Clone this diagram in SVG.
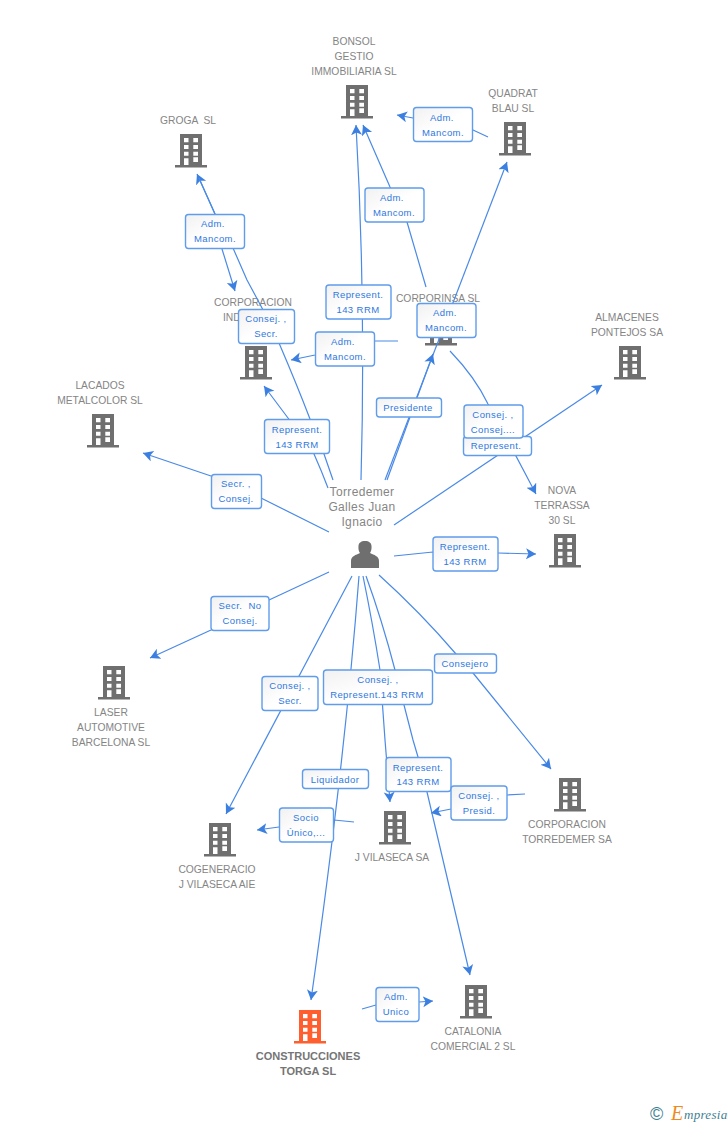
<svg xmlns="http://www.w3.org/2000/svg" xmlns:xlink="http://www.w3.org/1999/xlink" width="728" height="1125" viewBox="0 0 728 1125">
<style>
text{font-family:"Liberation Sans",Arial,sans-serif}
.n{font-size:10.300px;fill:#858585;text-anchor:middle;white-space:pre}
.p{font-size:12px;fill:#858585;text-anchor:middle;letter-spacing:.35px}
.b{font-size:11px;font-weight:bold;fill:#757575;text-anchor:middle}
.l{font-size:9.500px;fill:#2f78e0;text-anchor:middle;letter-spacing:.42px;white-space:pre}
.box{fill:url(#g);stroke:#5f9ceb;stroke-width:1.4}
.c{fill:none;stroke:#4a8ae6;stroke-width:1.2;stroke-linejoin:round;marker-end:url(#a)}
</style>
<defs>
<linearGradient id="g" x1="0" y1="0" x2="1" y2="1"><stop offset="0" stop-color="#f1f1f1"/><stop offset=".5" stop-color="#fff"/></linearGradient>
<marker id="a" markerUnits="userSpaceOnUse" markerWidth="14" markerHeight="14" refX="10" refY="5.500" orient="auto"><path d="M0 0L10 5.500L0 11L2.500 5.500Z" fill="#3b7fe0"/></marker>
<g id="bd"><path d="M-11 0H11V31H16V33.500H-16V31H-11Z" fill="#6f6f6f"/><path d="M-7 4h4.500v4.300H-7ZM2.300 4h4.700v4.300H2.300ZM-7 11h4.500v4H-7ZM2.300 11h4.700v4H2.300ZM-7 17.700h4.500v4H-7ZM2.300 17.700h4.700v4H2.300ZM-7 24.300h4.500V31H-7ZM2.300 23.300h4.700v4.700H2.300Z" fill="#fff"/></g>
<g id="bo"><path d="M-11 0H11V31H16V33.500H-16V31H-11Z" fill="#ff5f2e"/><path d="M-7 4h4.500v4.300H-7ZM2.300 4h4.700v4.300H2.300ZM-7 11h4.500v4H-7ZM2.300 11h4.700v4H2.300ZM-7 17.700h4.500v4H-7ZM2.300 17.700h4.700v4H2.300ZM-7 24.300h4.500V31H-7ZM2.300 23.300h4.700v4.700H2.300Z" fill="#fff"/></g>
</defs>
<rect width="728" height="1125" fill="#fff"/>

<g id="nodes">
<g id="bonsol"><text class="n" x="354" y="45">BONSOL</text><text class="n" x="354" y="60">GESTIO</text><text class="n" x="354" y="75">IMMOBILIARIA SL</text><use xlink:href="#bd" href="#bd" x="357" y="85"/></g>
<g id="quadrat"><text class="n" x="513" y="97">QUADRAT</text><text class="n" x="513" y="112">BLAU SL</text><use xlink:href="#bd" href="#bd" x="515" y="122"/></g>
<g id="groga"><text class="n" x="188" y="124">GROGA  SL</text><use xlink:href="#bd" href="#bd" x="191" y="134"/></g>
<g id="corporacion-ind"><text class="n" x="253" y="306">CORPORACION</text><text class="n" x="223" y="321" style="text-anchor:start">IND</text><use xlink:href="#bd" href="#bd" x="256" y="346"/></g>
<g id="corporinsa"><text class="n" x="438" y="302">CORPORINSA SL</text><use xlink:href="#bd" href="#bd" x="441" y="312"/></g>
<g id="almacenes"><text class="n" x="627" y="321">ALMACENES</text><text class="n" x="627" y="336">PONTEJOS SA</text><use xlink:href="#bd" href="#bd" x="630" y="346"/></g>
<g id="lacados"><text class="n" x="100" y="389">LACADOS</text><text class="n" x="100" y="404">METALCOLOR SL</text><use xlink:href="#bd" href="#bd" x="103" y="414"/></g>
<g id="nova"><text class="n" x="562" y="494">NOVA</text><text class="n" x="562" y="509">TERRASSA</text><text class="n" x="562" y="524">30 SL</text><use xlink:href="#bd" href="#bd" x="565" y="534"/></g>
<g id="person"><text class="p" x="362" y="496">Torredemer</text><text class="p" x="362" y="511">Galles Juan</text><text class="p" x="362" y="526">Ignacio</text><path d="M351 568V561C351 556 356 555 360 553C358 550 358.500 547 358.500 546C358.500 543 361 541 365 541C369 541 371.500 543 371.500 546C371.500 547 372 550 370 553C374 555 379 556 379 561V568Z" fill="#6f6f6f"/></g>
<g id="laser"><use xlink:href="#bd" href="#bd" x="114" y="666"/><text class="n" x="111" y="716">LASER</text><text class="n" x="111" y="731">AUTOMOTIVE</text><text class="n" x="111" y="746">BARCELONA SL</text></g>
<g id="torredemer"><use xlink:href="#bd" href="#bd" x="570" y="778"/><text class="n" x="567" y="828">CORPORACION</text><text class="n" x="567" y="843">TORREDEMER SA</text></g>
<g id="vilaseca"><use xlink:href="#bd" href="#bd" x="395" y="811"/><text class="n" x="392" y="861">J VILASECA SA</text></g>
<g id="cogeneracio"><use xlink:href="#bd" href="#bd" x="220" y="823"/><text class="n" x="217" y="873">COGENERACIO</text><text class="n" x="217" y="888">J VILASECA AIE</text></g>
<g id="construcciones"><use xlink:href="#bo" href="#bo" x="310" y="1010"/><text class="b" x="308" y="1060">CONSTRUCCIONES</text><text class="b" x="308" y="1075">TORGA SL</text></g>
<g id="catalonia"><use xlink:href="#bd" href="#bd" x="476" y="985"/><text class="n" x="473" y="1035">CATALONIA</text><text class="n" x="473" y="1050">COMERCIAL 2 SL</text></g>
</g>

<g id="connectors">
<path class="c" d="M488 137L473 130L413 118L397 115"/>
<path class="c" d="M426 287L407 222L390 187L363 125"/>
<path class="c" d="M361 480Q366 300 356 125"/>
<path class="c" d="M385 480L507 162"/>
<path class="c" d="M387 480L433 354"/>
<path class="c" d="M398 341L375 341L315 355L291 360"/>
<path class="c" d="M333 480L324 454L310 419Q297 385 279 343L262 308L247 280L233 248L215 214L197 174"/>
<path class="c" d="M199 178L215 214L222 249L235 291"/>
<path class="c" d="M328 488Q322 472 314 454L288 418L264 386"/>
<path class="c" d="M329 532L261 498L211 476L143 453"/>
<path class="c" d="M394 525L602 385"/>
<path class="c" d="M450 351Q475 377 488 404L507 439L536 494"/>
<path class="c" d="M394 556L433 552L498 553L536 554"/>
<path class="c" d="M329 572L269 600L211 630L150 658"/>
<path class="c" d="M352 576L226 814"/>
<path class="c" d="M359 576Q345 760 311 1000"/>
<path class="c" d="M363 576Q373 625 380 670L385 740L390 802"/>
<path class="c" d="M366 576Q382 620 395 670L413 740L418 757L427 792L470 975"/>
<path class="c" d="M379 575Q420 612 456 654L473 673L551 769"/>
<path class="c" d="M525 794L507 795L451 809L431 813"/>
<path class="c" d="M354 822L334 820L279 827L257 830"/>
<path class="c" d="M362 1009L376 1005L419 1002L433 1001"/>
</g>

<g id="edge-labels">
<g id="e1"><rect class="box" x="413.500" y="107.500" width="59" height="34" rx="3"/><text class="l" x="442" y="121">Adm.</text><text class="l" x="443" y="136">Mancom.</text></g>
<g id="e2"><rect class="box" x="365" y="188" width="59" height="34" rx="3"/><text class="l" x="392" y="201">Adm.</text><text class="l" x="394" y="216">Mancom.</text></g>
<g id="e3"><rect class="box" x="185.500" y="214.500" width="59" height="34" rx="3"/><text class="l" x="213" y="227">Adm.</text><text class="l" x="215" y="242">Mancom.</text></g>
<g id="e4"><rect class="box" x="326" y="285" width="65" height="34" rx="3"/><text class="l" x="358" y="298">Represent.</text><text class="l" x="358" y="313">143 RRM</text></g>
<g id="e5"><rect class="box" x="238.500" y="309.500" width="56" height="34" rx="3"/><text class="l" x="266" y="322">Consej. ,</text><text class="l" x="266" y="337">Secr.</text></g>
<g id="e6"><rect class="box" x="315.500" y="332" width="59" height="34" rx="3"/><text class="l" x="343" y="345">Adm.</text><text class="l" x="345" y="360">Mancom.</text></g>
<g id="e7"><rect class="box" x="417" y="303.500" width="59" height="34" rx="3"/><text class="l" x="445" y="316">Adm.</text><text class="l" x="446" y="331">Mancom.</text></g>
<g id="e8"><rect class="box" x="376.500" y="398" width="65" height="19" rx="3"/><text class="l" x="408" y="411">Presidente</text></g>
<g id="e9"><rect class="box" x="264.500" y="419.500" width="65" height="34" rx="3"/><text class="l" x="297" y="433">Represent.</text><text class="l" x="297" y="448">143 RRM</text></g>
<g id="e10"><rect class="box" x="463.500" y="436.500" width="68" height="19" rx="3"/><text class="l" x="496" y="449">Represent.</text></g>
<g id="e11"><rect class="box" x="464" y="405" width="59" height="33" rx="3"/><text class="l" x="493" y="418">Consej. ,</text><text class="l" x="493" y="433">Consej....</text></g>
<g id="e12"><rect class="box" x="211.500" y="474.500" width="50" height="34" rx="3"/><text class="l" x="236" y="487">Secr. ,</text><text class="l" x="236" y="502">Consej.</text></g>
<g id="e13"><rect class="box" x="433" y="537" width="65" height="34" rx="3"/><text class="l" x="465" y="550">Represent.</text><text class="l" x="465" y="565">143 RRM</text></g>
<g id="e14"><rect class="box" x="211" y="596.500" width="58" height="34" rx="3"/><text class="l" x="240" y="609">Secr.  No</text><text class="l" x="240" y="624">Consej.</text></g>
<g id="e15"><rect class="box" x="434.500" y="654" width="62" height="19" rx="3"/><text class="l" x="465" y="667">Consejero</text></g>
<g id="e16"><rect class="box" x="262" y="676.500" width="56" height="34" rx="3"/><text class="l" x="290" y="689">Consej. ,</text><text class="l" x="290" y="704">Secr.</text></g>
<g id="e17"><rect class="box" x="323.500" y="670" width="109" height="34.500" rx="3"/><text class="l" x="378" y="683">Consej. ,</text><text class="l" x="377" y="698">Represent.143 RRM</text></g>
<g id="e18"><rect class="box" x="302.500" y="769.500" width="66" height="19" rx="3"/><text class="l" x="335" y="783">Liquidador</text></g>
<g id="e19"><rect class="box" x="386" y="757.500" width="65" height="34" rx="3"/><text class="l" x="418" y="771">Represent.</text><text class="l" x="418" y="785">143 RRM</text></g>
<g id="e20"><rect class="box" x="451" y="786" width="56" height="34" rx="3"/><text class="l" x="479" y="799">Consej. ,</text><text class="l" x="479" y="814">Presid.</text></g>
<g id="e21"><rect class="box" x="279.500" y="808" width="54" height="34" rx="3"/><text class="l" x="306" y="821">Socio</text><text class="l" x="306" y="836">Único,...</text></g>
<g id="e22"><rect class="box" x="376" y="987.500" width="43" height="34" rx="3"/><text class="l" x="396" y="1000">Adm.</text><text class="l" x="396" y="1015">Unico</text></g>
</g>

<g id="logo"><text x="650" y="1120" font-size="18" fill="#3f7f92">©</text><text x="671" y="1120" font-size="20" font-style="italic" fill="#f08a1d" style="font-family:'Liberation Serif',serif">E</text><text x="684" y="1119" font-size="13" font-style="italic" letter-spacing=".3" fill="#3f7f92" style="font-family:'Liberation Serif',serif">mpresia</text></g>
</svg>
